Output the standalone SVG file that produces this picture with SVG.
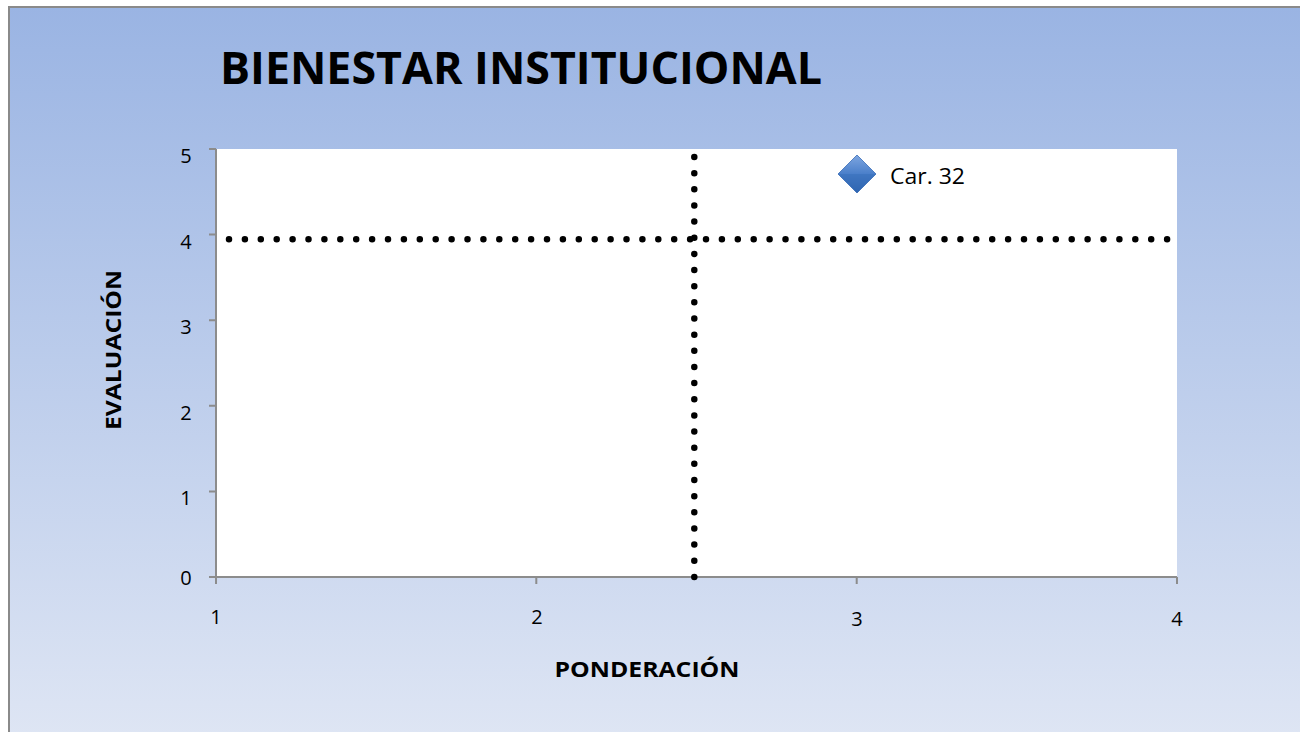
<svg xmlns="http://www.w3.org/2000/svg" width="1300" height="732" viewBox="0 0 1300 732">
<defs>
<linearGradient id="bg" x1="0" y1="0" x2="0" y2="1">
<stop offset="0" stop-color="#9ab4e3"/>
<stop offset="1" stop-color="#dfe6f4"/>
</linearGradient>
<linearGradient id="dia" x1="0" y1="0" x2="0" y2="1">
<stop offset="0" stop-color="#7ea6e0"/>
<stop offset="0.5" stop-color="#4a7fca"/>
<stop offset="1" stop-color="#2f64b0"/>
</linearGradient>
<style>
.tick{font-family:"Open Sans","Liberation Sans",sans-serif;font-size:20px;fill:#000}
.axt{font-family:"Open Sans","Liberation Sans",sans-serif;font-size:21px;font-weight:bold;fill:#000}
.ax{stroke:#8c8c8c;stroke-width:2;fill:none}
.dot{stroke:#000;stroke-width:6.5;stroke-linecap:round;fill:none}
</style>
</defs>
<rect x="0" y="0" width="1300" height="732" fill="#ffffff"/>
<rect x="9" y="7" width="1300" height="740" fill="url(#bg)" stroke="#8a8a8a" stroke-width="2"/>
<text x="220" y="84" font-family="Open Sans, Liberation Sans, sans-serif" font-size="44" font-weight="bold" textLength="602" lengthAdjust="spacingAndGlyphs">BIENESTAR INSTITUCIONAL</text>
<g id="plot">
<rect x="216" y="149" width="961" height="428" fill="#ffffff"/>
</g>
<g id="axes">
<path class="ax" d="M216 149V577H1177"/>
<path class="ax" d="M209 149H216M209 234.6H216M209 320.2H216M209 405.8H216M209 491.4H216M209 577H216"/>
<path class="ax" d="M216 577V584M536.3 577V584M856.7 577V584M1177 577V584"/>
<text class="tick" x="186" y="163" text-anchor="middle">5</text>
<text class="tick" x="186" y="249" text-anchor="middle">4</text>
<text class="tick" x="186" y="334" text-anchor="middle">3</text>
<text class="tick" x="186" y="420" text-anchor="middle">2</text>
<text class="tick" x="186" y="505" text-anchor="middle">1</text>
<text class="tick" x="186" y="585" text-anchor="middle">0</text>
<text class="tick" x="216" y="624" text-anchor="middle">1</text>
<text class="tick" x="537" y="624" text-anchor="middle">2</text>
<text class="tick" x="857" y="626" text-anchor="middle">3</text>
<text class="tick" x="1177" y="626" text-anchor="middle">4</text>
<text class="axt" x="647" y="677" text-anchor="middle" textLength="185" lengthAdjust="spacingAndGlyphs">PONDERACIÓN</text>
<text class="axt" transform="translate(121 350) rotate(-90)" text-anchor="middle" textLength="160" lengthAdjust="spacingAndGlyphs">EVALUACIÓN</text>
</g>
<g id="connectors">
<path class="dot" d="M229 239.3H1170" stroke-dasharray="0 15.9"/>
<path class="dot" d="M694.3 157V580" stroke-dasharray="0 16.15"/>
</g>
<g id="car32">
<polygon points="857,155 876,174 857,193 838,174" fill="url(#dia)" stroke="#3a6db8" stroke-width="0.8"/>
<polygon points="838,174 876,174 857,193" fill="#2f66b3" opacity="0.35"/>
<text x="890" y="184" font-family="Open Sans, Liberation Sans, sans-serif" font-size="21" fill="#000" textLength="75" lengthAdjust="spacingAndGlyphs">Car. 32</text>
</g>
</svg>
